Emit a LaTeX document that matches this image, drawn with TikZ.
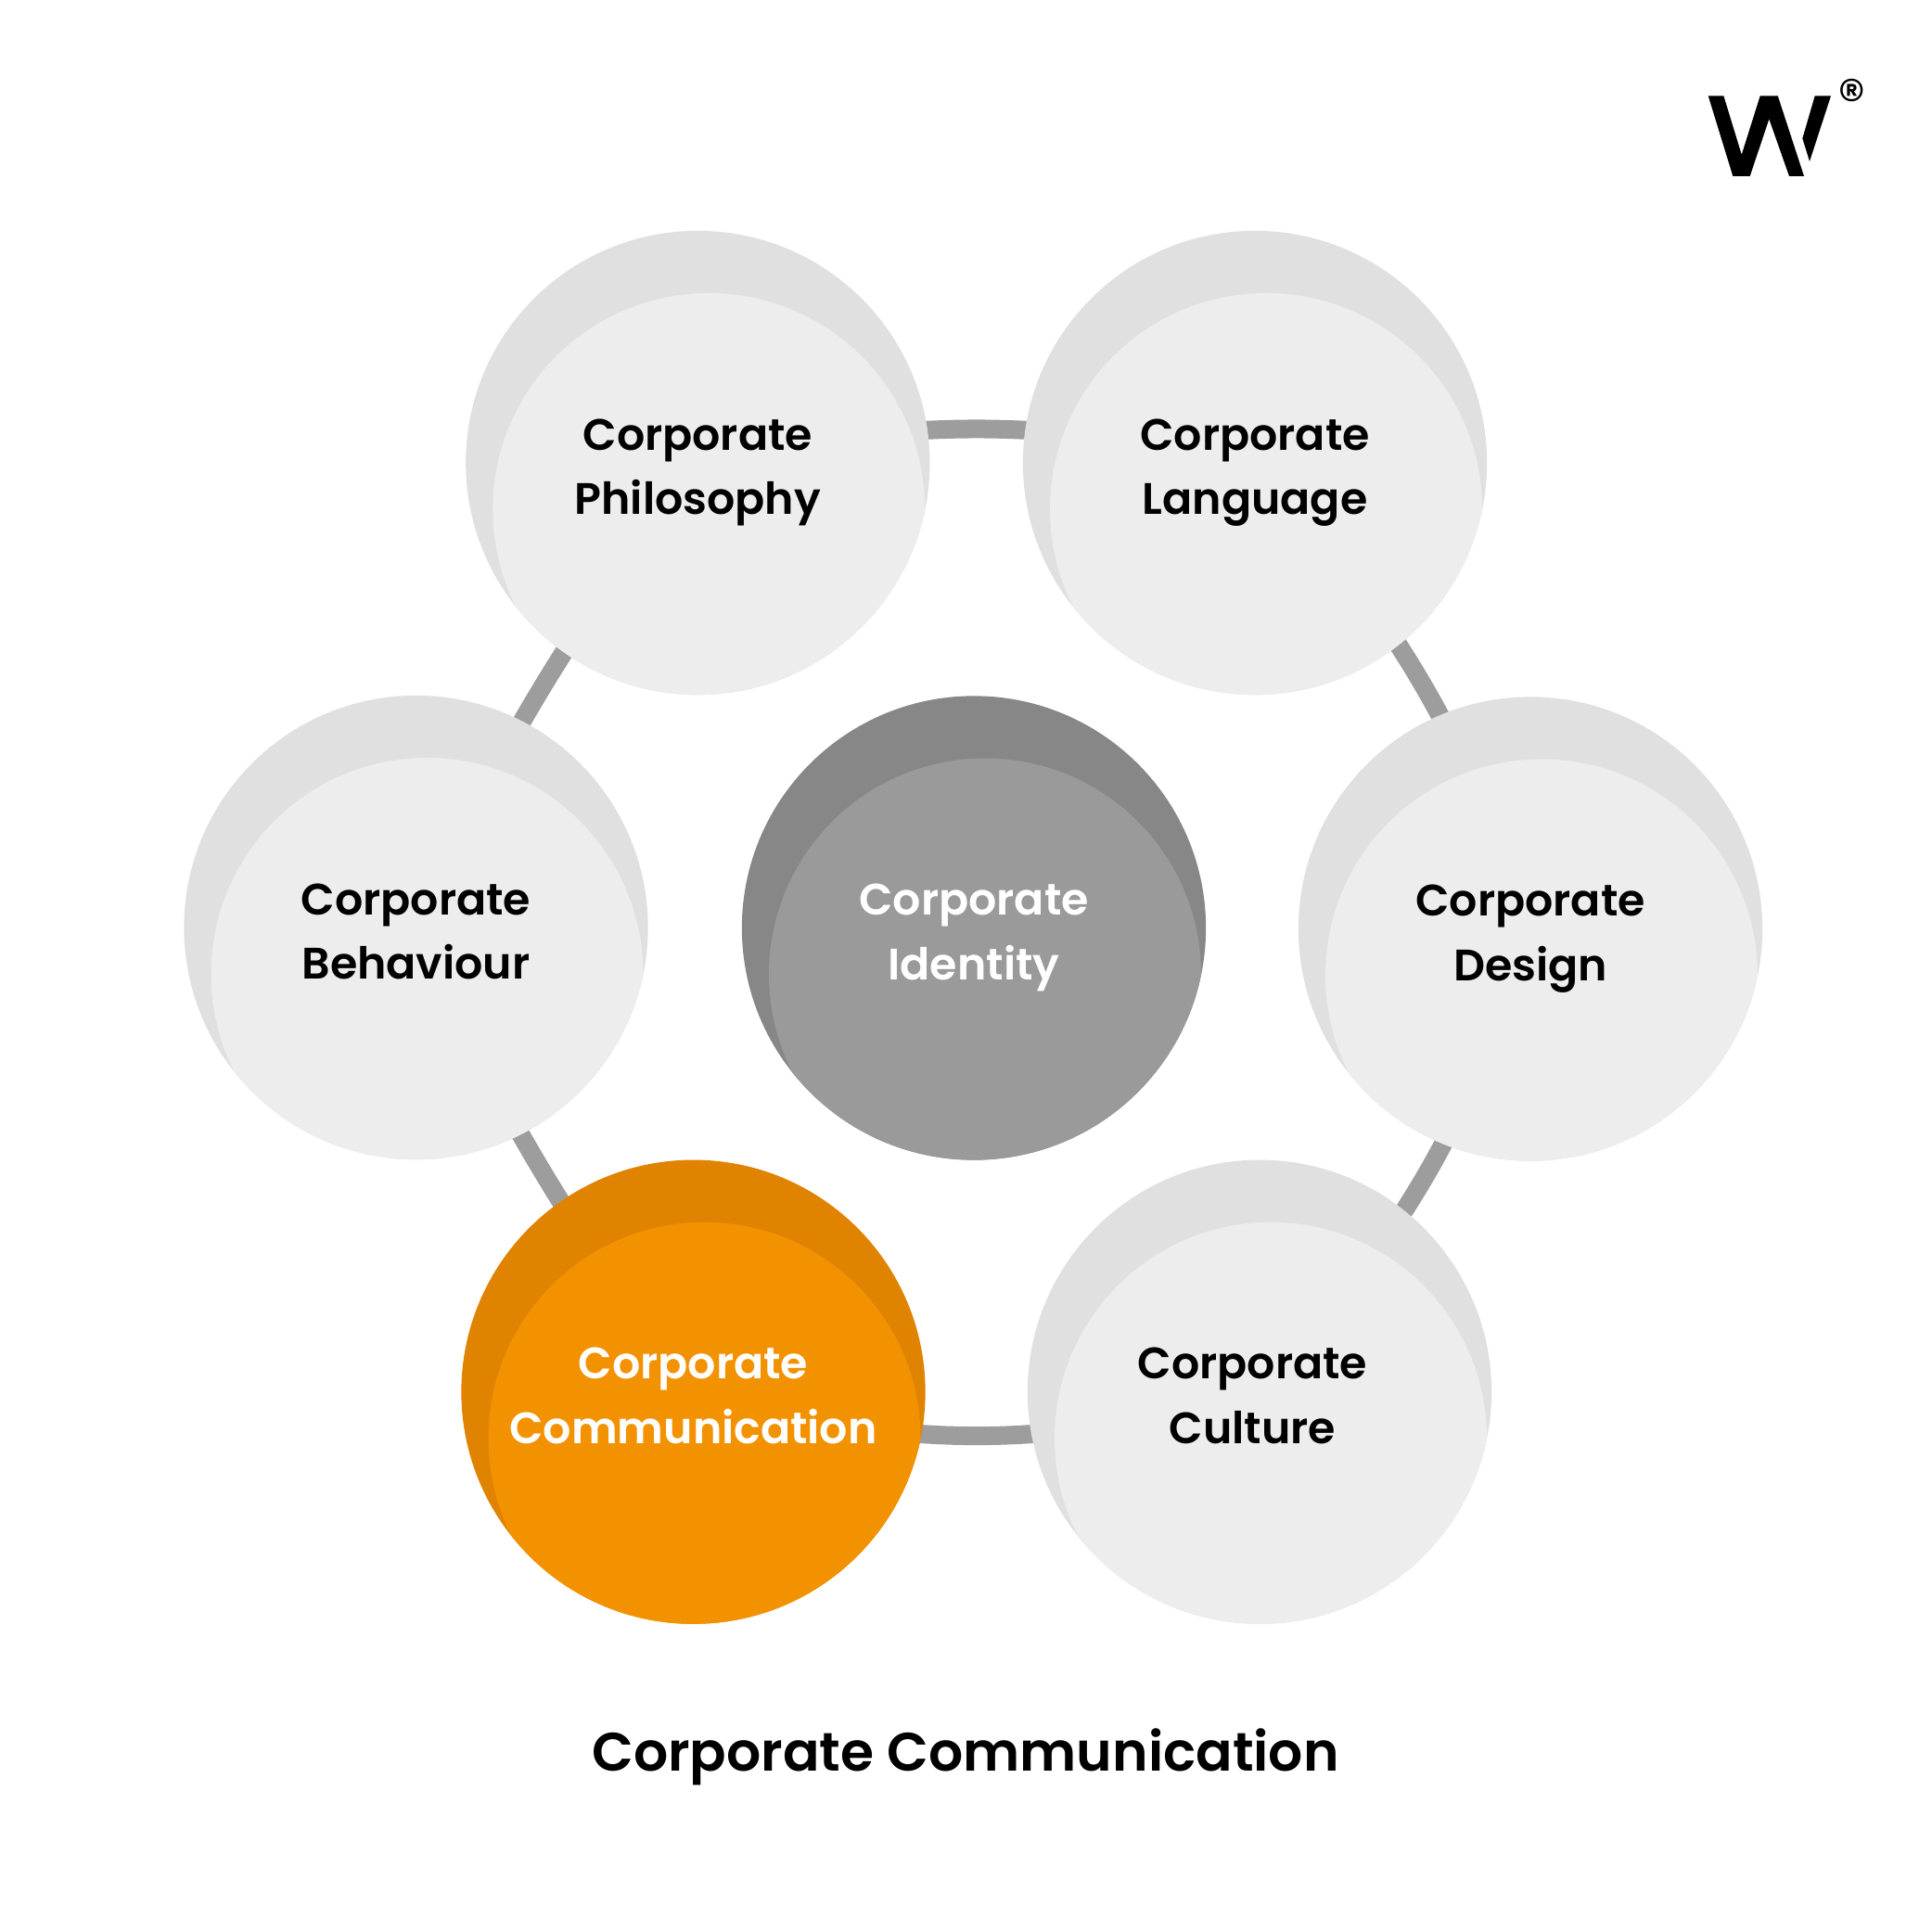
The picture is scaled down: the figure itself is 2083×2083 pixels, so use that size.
\documentclass[tikz,border=0pt]{standalone}
\usepackage{fontspec}
\usetikzlibrary{calc,backgrounds}
\setmainfont{Poppins}[BoldFont={Poppins SemiBold}]
\definecolor{palegrey}{HTML}{EDEDED}
\definecolor{lightgrey}{HTML}{E0E0E0}
\definecolor{darkgrey}{HTML}{878787}
\definecolor{midgrey}{HTML}{9A9A9A}
\definecolor{ringgrey}{HTML}{9D9D9D}
\definecolor{deeporange}{HTML}{E08300}
\definecolor{orange}{HTML}{F39200}
\newcommand{\topgap}{\rule{0pt}{5.8mm}}
\newcommand{\botgap}{\rule[-1.6mm]{0pt}{1mm}}
\tikzset{
  disc/.style 2 args={circle,minimum size=5cm,inner sep=0pt,fill=#1,align=center,
    font=\fontsize{13.5}{19.8}\selectfont\bfseries,
    path picture={\fill[#2] ($(path picture bounding box.center)+(12,50)$) circle (233);}},
  plain/.style={disc={lightgrey}{palegrey},text=black},
  ring/.style={ringgrey,line width=0.2cm}
}

\begin{document}
\begin{tikzpicture}[x=0.01cm,y=-0.01cm]
\useasboundingbox (0,0) rectangle (2083,2083);

  % cercles
\node[plain] at (752.3,499) (philosophy) {\topgap Corporate\\Philosophy\botgap};
\node[plain] at (1353,499) (language) {\topgap Corporate\\Language\botgap};
\node[plain] at (448.5,1000) (behaviour) {\topgap Corporate\\Behaviour\botgap};
\node[plain] at (1650,1001.5) (design) {\topgap Corporate\\Design\botgap};
\node[plain] at (1358,1500.7) (culture) {\hspace*{-1.5mm}\topgap Corporate\\\hspace*{-1.5mm}Culture\botgap};
\node[disc={deeporange}{orange},text=white] at (747.5,1500.7) (communication) {\topgap Corporate\\Communication\botgap};
\node[disc={darkgrey}{midgrey},text=white] at (1050,1000.5) (identity) {\topgap Corporate\\Identity\botgap};

  % anneau
\begin{scope}[on background layer]
  \draw[ring] (philosophy.center) to[bend left=12] (language.center);
  \draw[ring] (language.center) to[bend left=11.5] (design.center);
  \draw[ring] (design.center) to[bend left=12.5] (culture.center);
  \draw[ring] (culture.center) to[bend left=15.4] (communication.center);
  \draw[ring] (communication.center) to[bend left=6] (behaviour.center);
  \draw[ring] (behaviour.center) to[bend left=6] (philosophy.center);
\end{scope}

\node[font=\fontsize{16.6}{22}\selectfont\bfseries] at (1041,1894) (title) {Corporate Communication};

  % logo
\fill[black] (1841.7,103.3) -- (1858.3,103.3) -- (1877.7,166.7) -- (1897.7,103.3) -- (1916.7,103.3)
  -- (1945,190) -- (1929,190) -- (1907.3,128.3) -- (1886.7,190) -- (1868.3,190) -- cycle;
\fill[black] (1956.7,103.3) -- (1974,103.3) -- (1951,174) -- (1943.3,149.3) -- cycle;
\node[font=\fontsize{17}{17}\selectfont,inner sep=0pt] at (1996.7,106.5) (registered) {®};
\end{tikzpicture}
\end{document}
